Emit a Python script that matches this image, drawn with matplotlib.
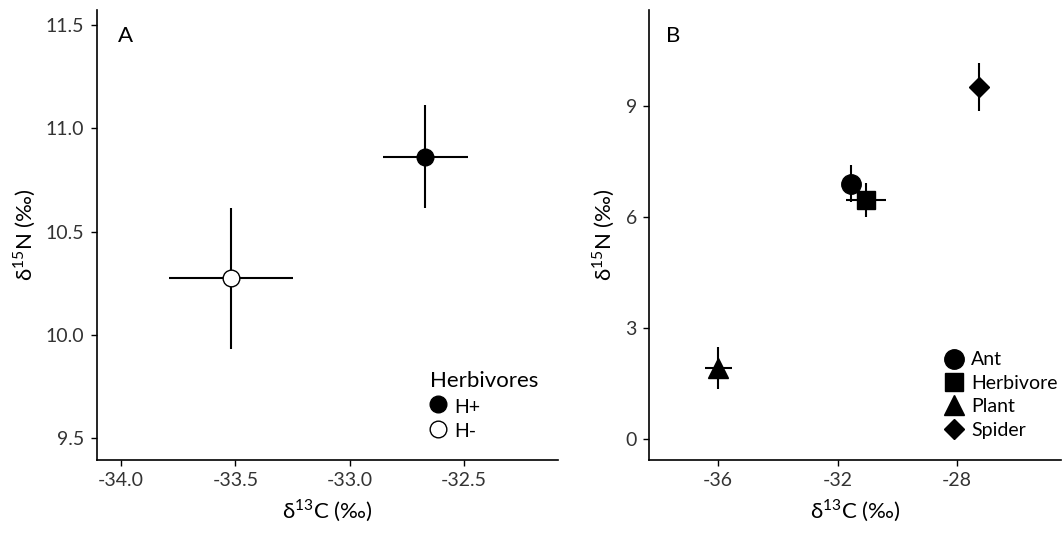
import matplotlib
matplotlib.use("Agg")
import matplotlib.pyplot as plt
from matplotlib.lines import Line2D

plt.rcParams['font.family'] = ['Lato', 'DejaVu Sans']
plt.rcParams['mathtext.fontset'] = 'custom'
plt.rcParams['mathtext.rm'] = 'Lato'

# Panel A: herbivore presence
herb_groups = ['H+', 'H-']
herb_c = [-32.67, -33.52]
herb_n = [10.863, 10.273]
herb_c_err = [0.186, 0.27]
herb_n_err = [0.25, 0.34]
herb_faces = ['black', 'white']

# Panel B: trophic groups
taxa = ['Ant', 'Herbivore', 'Plant', 'Spider']
taxa_c = [-31.55, -31.05, -36.0, -27.27]
taxa_n = [6.90, 6.45, 1.93, 9.52]
taxa_c_err = [0.15, 0.68, 0.46, 0.25]
taxa_n_err = [0.50, 0.46, 0.57, 0.65]
taxa_markers = ['o', 's', '^', 'D']
taxa_sizes = [14, 13, 15, 10]

fig = plt.figure(figsize=(10.62, 5.34), dpi=100)
axA = fig.add_axes([0.0913, 0.1386, 0.434, 0.8427])
axB = fig.add_axes([0.6114, 0.1386, 0.388, 0.8427])

xlab = 'δ$^{13}$C (‰)'
ylab = 'δ$^{15}$N (‰)'

for ax in (axA, axB):
    for side in ('top', 'right'):
        ax.spines[side].set_visible(False)
    for side in ('left', 'bottom'):
        ax.spines[side].set_linewidth(1.2)
    ax.tick_params(length=4, width=1, labelsize=14, labelcolor='#333333', pad=5)
    ax.set_xlabel(xlab, fontsize=16, labelpad=6)
    ax.set_ylabel(ylab, fontsize=16, labelpad=6)

# Panel A
for i in range(len(herb_groups)):
    axA.errorbar(herb_c[i], herb_n[i], xerr=herb_c_err[i], yerr=herb_n_err[i],
                 fmt='o', ms=12, mfc=herb_faces[i], mec='black', mew=1,
                 ecolor='black', elinewidth=1.5, capsize=0, zorder=3)
axA.set_xlim(-34.105, -32.09)
axA.set_ylim(9.394, 11.573)
axA.set_xticks([-34.0, -33.5, -33.0, -32.5])
axA.set_xticklabels(['-34.0', '-33.5', '-33.0', '-32.5'])
axA.set_yticks([9.5, 10.0, 10.5, 11.0, 11.5])
axA.text(0.045, 0.965, 'A', transform=axA.transAxes, fontsize=16, va='top')

handlesA = [Line2D([], [], ls='none', marker='o', ms=12, mfc=herb_faces[i], mec='black')
            for i in range(len(herb_groups))]
axA.legend(handlesA, herb_groups, title='Herbivores', loc='upper left',
           bbox_to_anchor=(0.405, 0.305), bbox_transform=fig.transFigure,
           frameon=False, fontsize=14, title_fontsize=16, alignment='left',
           handlelength=0.8, handleheight=1.2, handletextpad=0.45,
           borderpad=0, borderaxespad=0, labelspacing=0.25)

# Panel B
for i in range(len(taxa)):
    axB.errorbar(taxa_c[i], taxa_n[i], xerr=taxa_c_err[i], yerr=taxa_n_err[i],
                 fmt=taxa_markers[i], ms=taxa_sizes[i], mfc='black', mec='black',
                 ecolor='black', elinewidth=1.5, capsize=0, zorder=3)
axB.set_xlim(-38.31, -24.5)
axB.set_ylim(-0.56, 11.59)
axB.set_xticks([-36, -32, -28])
axB.set_xticklabels(['-36', '-32', '-28'])
axB.set_yticks([0, 3, 6, 9])
axB.text(0.04, 0.965, 'B', transform=axB.transAxes, fontsize=16, va='top')

handlesB = [Line2D([], [], ls='none', marker=taxa_markers[i], ms=taxa_sizes[i],
                   mfc='black', mec='black') for i in range(len(taxa))]
axB.legend(handlesB, taxa, loc='upper left',
           bbox_to_anchor=(0.890, 0.342), bbox_transform=fig.transFigure,
           frameon=False, fontsize=14, handlelength=0.9, handletextpad=0.45,
           borderpad=0, borderaxespad=0, labelspacing=0.33)

fig.savefig('out.png', dpi=100, facecolor='white')
